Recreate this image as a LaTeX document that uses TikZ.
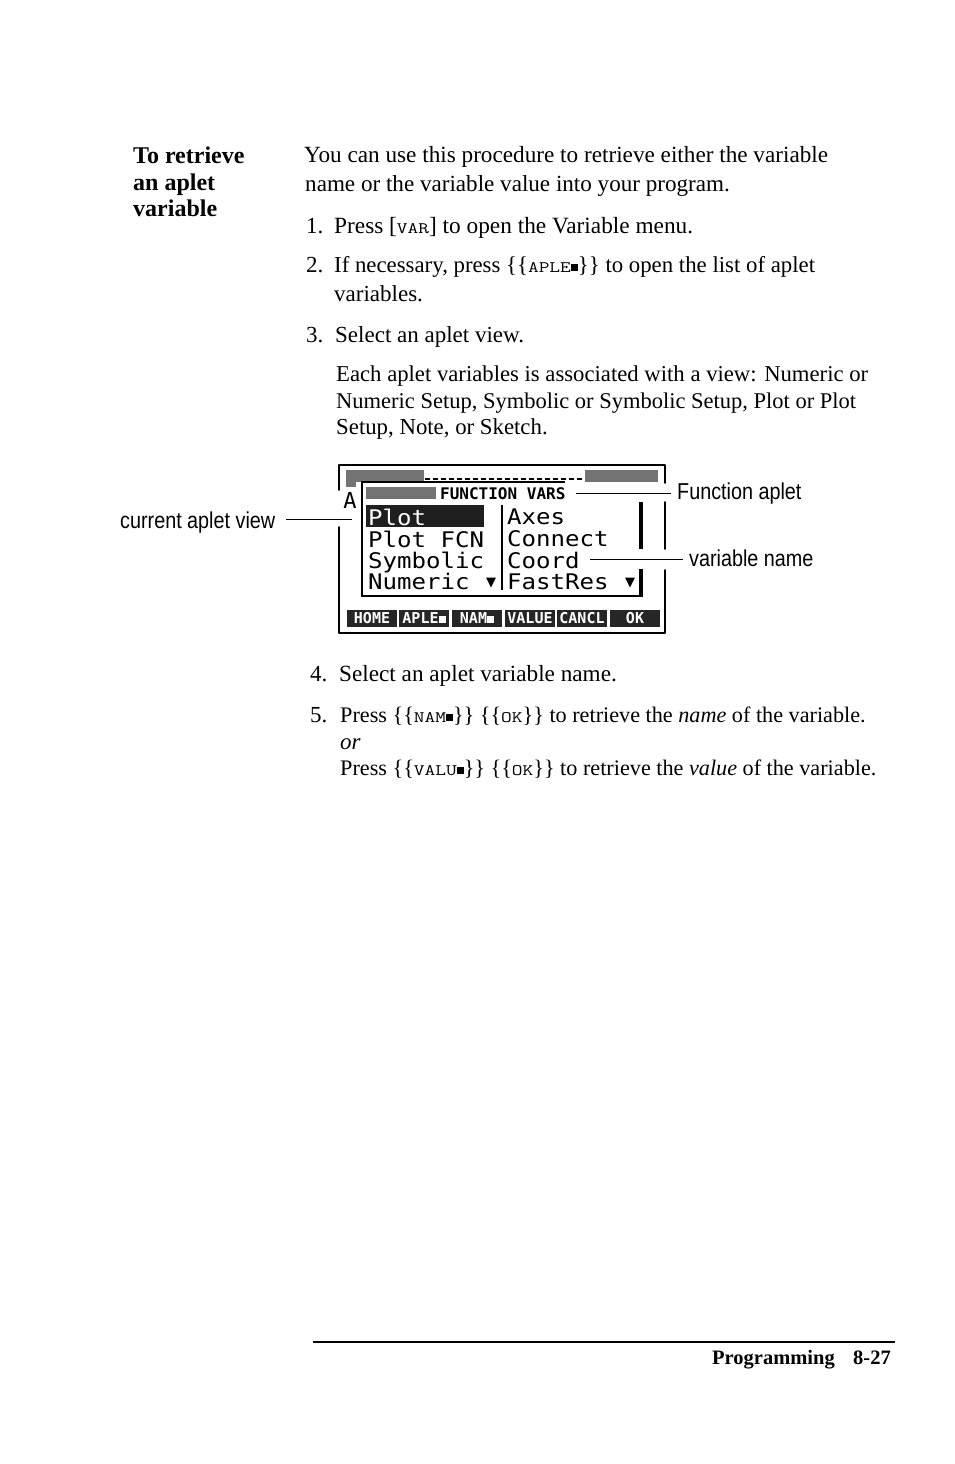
\documentclass[tikz,border=0pt]{standalone}
\usepackage{fontspec}
\setmainfont{Liberation Serif}
\newfontfamily\lblfont[FakeStretch=0.86]{Liberation Sans}
\newfontfamily\lcdfont[FakeStretch=1.12]{DejaVu Sans Mono}
\newfontfamily\pixfont{DejaVu Sans Mono}
\newfontfamily\symfont{DejaVu Sans}
\newcommand{\keyf}[1]{\scalebox{1.3}[1]{\ttfamily\fontsize{16}{16}\selectfont #1}}
\newcommand{\blk}{\rule[1pt]{7pt}{7pt}}
\tikzset{
  pageline/.style={anchor=base west,inner sep=0pt,font=\fontsize{#1}{#1}\selectfont},
  headline/.style={anchor=base west,inner sep=0pt,font=\fontsize{24}{24}\selectfont\bfseries},
  footline/.style={anchor=base west,inner sep=0pt,font=\fontsize{20.5}{20.5}\selectfont\bfseries},
  lbl/.style={anchor=base west,inner sep=0pt,font=\lblfont\fontsize{23}{23}\selectfont},
  lcdrow/.style={anchor=base west,inner sep=0pt,font=\lcdfont\fontsize{21.5}{21.5}\selectfont},
  softkey/.style={minimum width=50pt,minimum height=17pt,inner sep=0pt,fill=black!85,text=white,font=\pixfont\fontsize{15}{15}\selectfont\bfseries},
  framel/.style={line width=1.6pt,line cap=round},
  thin rule/.style={line width=1pt}
}
\begin{document}
\begin{tikzpicture}[x=1pt,y=-1pt,line join=round]
\useasboundingbox (0,0) rectangle (954,1464);
\fill[white] (0,0) rectangle (954,1464);
\foreach \i/\y/\t in {1/163/To retrieve,2/190/an aplet,3/216/variable}
  \node[headline] (head\i) at (133,\y) {\t};
\foreach \i/\x/\y/\s/\t in {
  1/304/162/23.2/{You can use this procedure to retrieve either the variable},
  2/305/191/23.1/{name or the variable value into your program.},
  3/306/233/23/{1.},
  4/334/233/23.3/{Press [\keyf{VAR}] to open the Variable menu.},
  5/306/272/23/{2.},
  6/334/272/22.8/{If necessary, press \{\{\keyf{APLE}\blk\}\} to open the list of aplet},
  7/334/301/23/{variables.},
  8/306/342/23/{3.},
  9/335/342/23/{Select an aplet view.},
  10/336/381/22.7/{Each aplet variables is associated with a view: Numeric or},
  11/336/408/22.5/{Numeric Setup, Symbolic or Symbolic Setup, Plot or Plot},
  12/336/434/22.8/{Setup, Note, or Sketch.},
  13/310/681/23/{4.},
  14/339/681/23.2/{Select an aplet variable name.},
  15/310/722/23/{5.},
  16/340/722/22.2/{Press \{\{\keyf{NAM}\blk\}\} \{\{\keyf{OK}\}\} to retrieve the \textit{name} of the variable.},
  17/340/749/23/{\textit{or}},
  18/340/775/22.2/{Press \{\{\keyf{VALU}\blk\}\} \{\{\keyf{OK}\}\} to retrieve the \textit{value} of the variable.}}
  \node[pageline=\s] (line\i) at (\x,\y) {\t};
\draw[framel] (339,490)--(339,465)--(665,465)--(665,483);
\draw[framel] (665,502)--(665,549);
\draw[framel] (665,570)--(665,633)--(339,633)--(339,527);
\fill[black!55] (346,470) rectangle (424,482);
\fill[black!55] (585,470) rectangle (658,482);
\fill[black!55] (346,470) rectangle (356,487);
\draw[line width=2pt,dash pattern=on 5pt off 3pt] (425,479)--(583,479);
\node[anchor=center,inner sep=0pt,font=\pixfont\fontsize{22}{22}\selectfont] (aplet) at (350,500) {A};
\draw[line width=2pt] (362,597)--(362,482)--(565,482);
\draw[line width=2pt] (362,596)--(643,596);
\draw[line width=4.5pt] (641,502)--(641,549);
\draw[line width=4.5pt] (641,569)--(641,597);
\fill[black!55] (366,487) rectangle (436,499);
\node[anchor=base west,inner sep=0pt,font=\pixfont\fontsize{16}{16}\selectfont\bfseries] (fvars) at (440,499) {FUNCTION VARS};
\fill[black!88] (366,505) rectangle (484,527);
\draw[line width=1.2pt] (502,505)--(502,590);
\foreach \i/\y/\t/\c in {1/525/Plot/white,2/547/Plot FCN/black,3/568/Symbolic/black,4/589/Numeric/black}
  \node[lcdrow,text=\c] (left\i) at (368,\y) {\t};
\foreach \i/\y/\t in {1/524/Axes,2/546/Connect,3/568/Coord,4/589/FastRes}
  \node[lcdrow] (right\i) at (507,\y) {\t};
\node[inner sep=0pt,font=\symfont\fontsize{13}{13}\selectfont] (downa) at (491,583) {▼};
\node[inner sep=0pt,font=\symfont\fontsize{13}{13}\selectfont] (downb) at (630,583) {▼};
\foreach \i/\x/\t in {1/372/HOME,2/424/APLE\blk,3/477/NAM\blk,4/530/VALUE,5/582/CANCL,6/635/OK}
  \node[softkey] (key\i) at (\x,618.5) {\t};
\node[lbl] (lblcur) at (120,528) {current aplet view};
\node[lbl] (lblfun) at (677,499) {Function aplet};
\node[lbl] (lblvar) at (689,566) {variable name};
\coordinate (curend) at (352,519);
\draw[thin rule] ([xshift=11pt]lblcur.base east |- curend) -- (curend);
\draw[thin rule] ([xshift=10pt]fvars.east) -- ([xshift=-6pt]lblfun.base west |- fvars.east);
\draw[thin rule] ([xshift=10pt]right3.east) -- ([xshift=-6pt]lblvar.base west |- right3.east);
\draw[line width=1.5pt] (313,1342)--(895,1342);
\node[footline] (foot) at (712,1364) {Programming};
\node[footline] (page) at (853,1364) {8-27};
\end{tikzpicture}
\end{document}
